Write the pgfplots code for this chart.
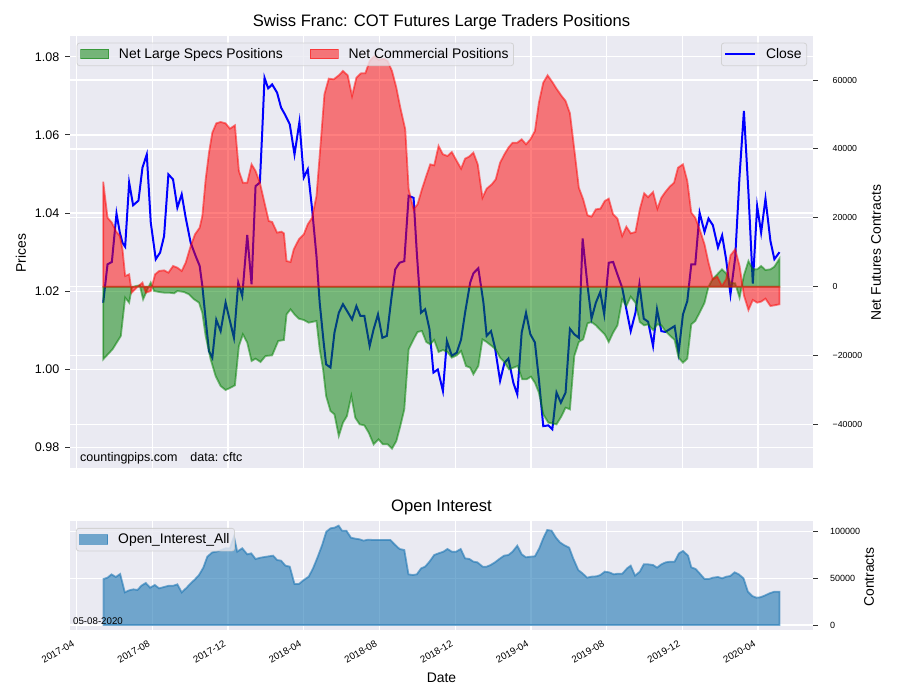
\documentclass[border=0pt]{standalone}
\usepackage{fontspec}
\setmainfont{Liberation Sans}
\usepackage{pgfplots}
\usepackage{pgfplotstable}
\pgfplotsset{compat=1.18}
\definecolor{bgc}{RGB}{234,234,242}
\definecolor{legedge}{RGB}{204,204,204}
\definecolor{specg}{RGB}{0,128,0}
\definecolor{commr}{RGB}{255,0,0}
\definecolor{oic}{RGB}{31,119,180}
\definecolor{tickc}{RGB}{50,50,50}

\pgfplotstableread{
x y
1.404 1.0171
1.632 1.0269
1.861 1.0275
2.107 1.0399
2.283 1.0350
2.423 1.0324
2.564 1.0314
2.775 1.0478
2.985 1.0420
3.267 1.0432
3.477 1.0516
3.706 1.0550
3.917 1.0376
4.180 1.0282
4.409 1.0299
4.620 1.0341
4.848 1.0499
5.094 1.0486
5.322 1.0414
5.551 1.0448
5.762 1.0388
6.025 1.0324
6.289 1.0290
6.500 1.0265
6.640 1.0214
6.816 1.0128
6.992 1.0047
7.168 1.0030
7.378 1.0127
7.607 1.0098
7.870 1.0171
8.099 1.0124
8.310 1.0081
8.538 1.0222
8.749 1.0188
9.013 1.0344
9.241 1.0218
9.452 1.0469
9.680 1.0478
9.803 1.0606
9.926 1.0746
10.12 1.0719
10.33 1.0729
10.59 1.0708
10.80 1.0670
11.03 1.0650
11.26 1.0627
11.51 1.0550
11.77 1.0633
12.00 1.0491
12.21 1.0512
12.44 1.0410
12.67 1.0290
12.84 1.0171
13.05 1.0069
13.18 1.0013
13.41 1.0005
13.62 1.0094
13.85 1.0145
14.07 1.0167
14.28 1.0150
14.55 1.0128
14.78 1.0162
14.99 1.0137
15.20 1.0137
15.48 1.0060
15.69 1.0103
15.92 1.0141
16.15 1.0081
16.39 1.0086
16.62 1.0179
16.83 1.0256
17.06 1.0273
17.31 1.0277
17.54 1.0444
17.80 1.0439
17.97 1.0299
18.19 1.0145
18.41 1.0154
18.64 1.0103
18.85 0.9992
19.08 1.0000
19.35 0.9945
19.56 1.0073
19.82 1.0035
20.08 1.0043
20.31 1.0077
20.52 1.0145
20.79 1.0222
20.96 1.0246
21.22 1.0259
21.49 1.0171
21.66 1.0086
21.89 1.0098
22.10 1.0056
22.37 0.9971
22.60 1.0017
22.81 1.0028
23.07 0.9966
23.28 0.9936
23.51 1.0094
23.74 1.0145
23.97 1.0090
24.21 1.0069
24.42 0.9975
24.65 0.9855
24.92 0.9857
25.13 0.9847
25.35 0.9941
25.58 0.9915
25.83 0.9941
26.06 1.0104
26.29 1.0090
26.53 1.0081
26.73 1.0335
26.99 1.0214
27.20 1.0130
27.43 1.0171
27.66 1.0198
27.87 1.0141
28.11 1.0273
28.34 1.0275
28.57 1.0243
28.82 1.0209
29.04 1.0154
29.27 1.0098
29.52 1.0145
29.73 1.0218
29.96 1.0130
30.19 1.0122
30.45 1.0060
30.66 1.0154
30.89 1.0098
31.10 1.0096
31.33 1.0103
31.59 1.0111
31.80 1.0043
32.03 1.0141
32.26 1.0175
32.47 1.0269
32.68 1.0269
32.91 1.0401
33.17 1.0352
33.38 1.0386
33.61 1.0369
33.88 1.0312
34.10 1.0343
34.31 1.0282
34.54 1.0192
34.79 1.0286
35.02 1.0495
35.25 1.0661
35.49 1.0452
35.72 1.0220
35.95 1.0418
36.16 1.0350
36.39 1.0437
36.65 1.0329
36.86 1.0282
37.13 1.0300
}\closedata

\pgfplotstableread{
x y
1.404 30490
1.632 20038
1.861 18587
2.072 16167
2.283 14716
2.423 10845
2.564 3104
2.775 3588
2.915 -1735
3.091 -767
3.267 200
3.477 1168
3.653 -1735
3.917 -1251
4.145 3588
4.356 4556
4.620 4749
4.848 4072
5.094 6007
5.322 5523
5.551 4556
5.762 6975
6.025 11813
6.254 15200
6.500 17136
6.640 20521
6.816 31167
6.992 38909
7.168 44715
7.378 47424
7.607 47811
7.870 47424
8.099 45876
8.362 46843
8.573 33586
8.784 30199
9.013 30199
9.241 35521
9.452 33586
9.680 30199
9.944 23909
10.15 19070
10.33 18780
10.59 15683
10.82 15974
10.95 15500
11.09 7458
11.30 7168
11.47 10845
11.74 13748
12.00 15200
12.21 18103
12.44 20038
12.67 26328
12.88 40844
13.09 55843
13.32 60392
13.58 60198
13.85 61359
14.07 62617
14.32 61359
14.55 55359
14.78 60682
15.02 61940
15.25 61940
15.48 65520
15.73 66972
15.95 65811
16.22 66198
16.43 65520
16.66 62617
16.89 57779
17.10 51972
17.36 45682
17.54 28264
17.80 22458
18.01 23909
18.24 28264
18.47 32135
18.68 35521
18.89 35231
19.12 40844
19.35 38425
19.59 37941
19.82 39102
20.08 36489
20.31 34263
20.52 37167
20.73 37748
20.96 38909
21.19 35521
21.44 25844
21.66 28457
21.93 29715
22.14 31167
22.37 36005
22.60 38425
22.81 40360
23.03 41812
23.28 41812
23.51 42779
23.74 41328
23.97 42779
24.21 45198
24.42 53424
24.65 59230
24.88 61359
25.13 59424
25.35 57488
25.62 55359
25.83 53908
26.06 50327
26.29 39876
26.53 28748
26.76 25361
26.99 20715
27.20 20328
27.43 22458
27.67 22651
27.90 24877
28.11 25554
28.34 21006
28.57 19748
28.82 14716
29.04 17425
29.27 15490
29.52 15877
29.75 22458
29.98 27103
30.19 26000
30.45 27490
30.68 22651
30.89 25844
31.10 27490
31.33 29038
31.56 30199
31.77 34554
32.03 35521
32.26 30683
32.47 21490
32.68 20038
32.91 16651
33.17 12297
33.38 6975
33.61 2136
33.84 2910
34.09 200
34.31 2136
34.54 9103
34.79 10845
35.02 6007
35.25 -2507
35.49 -6765
35.72 -3862
35.95 -4636
36.16 -4346
36.39 -3475
36.65 -5604
36.86 -5410
37.13 -5120
}\commdata

\pgfplotstableread{
x y
1.404 -21089
1.896 -18186
2.335 -14315
2.564 -3186
2.775 -4638
2.915 -284
3.126 200
3.337 394
3.513 -3671
3.741 -767
3.917 1168
4.092 -1251
4.356 -1541
4.620 -1735
4.883 -1735
5.147 -1928
5.322 -1251
5.674 -1541
5.937 -2219
6.201 -3671
6.465 -4638
6.640 -7541
6.816 -14315
7.080 -21089
7.343 -25928
7.607 -28831
7.870 -29993
8.134 -29315
8.362 -28638
8.573 -17218
8.784 -13831
9.013 -16251
9.241 -21573
9.452 -20896
9.715 -21863
9.979 -20122
10.33 -19928
10.65 -15767
10.95 -15476
11.09 -8025
11.30 -6573
11.51 -8025
11.74 -9283
12.00 -9670
12.26 -10444
12.67 -9960
12.84 -18186
13.02 -23992
13.18 -31734
13.41 -36089
13.62 -37056
13.85 -43347
14.07 -39476
14.28 -37540
14.51 -31734
14.72 -38024
14.95 -39960
15.20 -40250
15.43 -42379
15.69 -45766
15.95 -44315
16.18 -45766
16.43 -45766
16.66 -47024
16.89 -44798
17.10 -40443
17.31 -35605
17.54 -18186
17.80 -15283
18.01 -13154
18.24 -12864
18.47 -16057
18.68 -16734
18.89 -15476
19.12 -18960
19.35 -18379
19.59 -18960
19.82 -20605
20.08 -19928
20.31 -18670
20.57 -23025
20.79 -23508
20.96 -25443
21.22 -23024
21.44 -15283
21.66 -16057
21.93 -17218
22.14 -18186
22.37 -20605
22.60 -21863
22.84 -23992
23.07 -23508
23.30 -23024
23.54 -26895
23.77 -26895
24.00 -26121
24.21 -27863
24.42 -30766
24.65 -37056
24.92 -39476
25.13 -39669
25.35 -39960
25.62 -37540
25.83 -35121
26.06 -35605
26.29 -20122
26.53 -16057
26.76 -15283
26.99 -10638
27.20 -10251
27.43 -11218
27.67 -12573
27.90 -13831
28.11 -16057
28.34 -13348
28.57 -11218
28.82 -3671
29.04 -5606
29.27 -2896
29.52 -4638
29.75 -10251
29.98 -11218
30.19 -10928
30.45 -12573
30.68 -10928
30.89 -11218
31.10 -12864
31.33 -14121
31.59 -15476
31.80 -20605
32.03 -22057
32.26 -20896
32.47 -10928
32.68 -9960
32.91 -7541
33.17 -4638
33.38 0
33.61 2330
33.84 3588
34.09 5039
34.31 3878
34.54 1168
34.79 975
35.02 -3186
35.25 3298
35.49 7458
35.72 5039
35.95 5039
36.16 6007
36.39 4846
36.65 5039
36.86 5813
37.13 8135
}\specdata

\pgfplotstableread{
x y
1.421 49252
1.632 50680
1.843 54208
2.072 51392
2.300 54606
2.546 34976
2.775 37118
3.003 38189
3.214 37475
3.425 42114
3.653 44970
3.882 39973
4.128 42828
4.356 39259
4.620 40687
4.883 42114
5.112 42114
5.322 43542
5.551 34976
5.814 39973
6.025 44611
6.236 48538
6.465 53535
6.693 61385
6.904 73164
7.168 77804
7.396 78518
7.642 80303
7.870 82087
8.099 82087
8.310 94579
8.485 78518
8.749 82087
9.013 75663
9.223 76734
9.452 70666
9.715 72094
9.926 72808
10.15 73521
10.38 74235
10.59 69595
10.80 68881
11.03 63528
11.26 62457
11.51 43899
11.74 43899
12.00 48182
12.26 51751
12.49 60673
12.74 73164
12.97 85656
13.19 99932
13.41 103501
13.62 104215
13.84 106356
14.02 101003
14.25 101003
14.49 93508
14.72 92437
14.95 91723
15.16 90296
15.39 91367
15.66 91010
16.18 91010
16.57 91010
16.83 85656
17.06 81373
17.31 80303
17.53 54250
17.76 53535
17.97 54250
18.20 60673
18.41 62457
18.64 67811
18.89 74949
19.12 76734
19.38 78518
19.59 81373
19.82 78518
20.05 78518
20.29 81373
20.52 71380
20.75 70666
20.96 67811
21.17 67097
21.45 62457
21.66 62457
21.87 64242
22.10 67097
22.33 70666
22.58 74235
22.81 74949
23.03 78518
23.28 84942
23.51 75663
23.74 72451
23.98 73164
24.21 73521
24.44 82087
24.65 92794
24.86 101717
25.09 101003
25.32 93508
25.53 88512
25.74 85656
26.02 82801
26.23 71380
26.50 58889
26.72 55320
26.97 50680
27.20 51751
27.46 52108
27.67 53535
27.90 57104
28.13 56390
28.38 54249
28.60 54964
28.83 54964
29.08 60673
29.27 63528
29.50 52821
29.75 57104
29.96 64956
30.19 64956
30.45 64242
30.66 61386
30.89 64956
31.12 67097
31.36 67811
31.59 67811
31.82 76734
32.03 79232
32.30 74235
32.47 61742
32.70 59958
32.91 55318
33.17 49251
33.40 49251
33.61 50679
33.88 51393
34.10 49966
34.32 51751
34.53 52465
34.76 56391
34.98 54250
35.23 49966
35.46 35690
35.69 31050
35.90 29265
36.11 29622
36.34 31407
36.60 33905
36.86 35690
37.13 35690
}\oidata

\pgfplotsset{
  base/.style={
    scale only axis, width=743pt, anchor=south west,
    xmin=-0.35, xmax=38.9,
    axis line style={draw=none},
    tick align=outside, major tick length=4.5pt,
    tick style={color=tickc, line width=0.9pt},
    xtick={0,4,8,12,16,20,24,28,32,36},
    xtick style={draw=none},
    grid=major, grid style={white, line width=1.3pt},
    scaled y ticks=false,
    /pgf/number format/assume math mode=true,
  },
  legbox/.style={
    fill=bgc, fill opacity=0.8, draw=legedge, draw opacity=0.8, text opacity=1,
    rounded corners=2.5pt, line width=0.8pt,
    font=\fontsize{13.9}{16}\selectfont,
    inner xsep=3pt, inner ysep=3.5pt,
  },
}

\begin{document}
\begin{tikzpicture}[x=1pt,y=1pt]
\path[fill=white] (0,0) rectangle (900,700);

% ---------- top: prices (left axis); also carries the right-axis grid lines ----------
\begin{axis}[base, at={(70pt,232pt)}, height=432pt,
  ymin=0.9748, ymax=1.0853,
  axis background/.style={fill=bgc},
  ytick={0.98,1.00,1.02,1.04,1.06,1.08},
  yticklabels={0.98,1.00,1.02,1.04,1.06,1.08},
  extra y ticks={0.98593,1.00355,1.02117,1.03880,1.05642,1.07404},
  extra y tick labels={},
  extra y tick style={grid=major, tick style={draw=none}},
  ytick pos=left, xticklabels={},
  yticklabel style={font=\fontsize{12.5}{14}\selectfont, anchor=east, inner sep=0pt, xshift=-6pt},
]
\addplot[color=blue, line width=2pt] table {\closedata};
\end{axis}

% ---------- top: net positions (right axis) ----------
\begin{axis}[base, at={(70pt,232pt)}, height=432pt,
  ymin=-52632, ymax=72780, grid=none,
  ytick={-40000,-20000,0,20000,40000,60000},
  yticklabels={−40000,−20000,0,20000,40000,60000},
  ytick pos=right, yticklabel pos=right, xticklabels={},
  yticklabel style={font=\fontsize{8.75}{10}\selectfont, anchor=west, inner sep=0pt, xshift=15pt},
  legend columns=2,
  legend style={legbox, at={(0.009,0.9845)}, anchor=north west,
    /tikz/every odd column/.append style={column sep=8pt},
    /tikz/every even column/.append style={column sep=25pt}},
  legend image code/.code={\draw[sharp corners,#1] (0pt,-4.5pt) rectangle (28pt,5pt);},
]
\addplot[fill=specg, fill opacity=0.5, draw=specg, draw opacity=0.5, line width=1.8pt, forget plot] table {\specdata} \closedcycle;
\addplot[fill=commr, fill opacity=0.5, draw=commr, draw opacity=0.5, line width=1.8pt, forget plot] table {\commdata} \closedcycle;
\addlegendimage{fill=specg, fill opacity=0.5, draw=specg, draw opacity=0.5, line width=0.9pt}
\addlegendentry{Net Large Specs Positions}
\addlegendimage{fill=commr, fill opacity=0.5, draw=commr, draw opacity=0.5, line width=0.9pt}
\addlegendentry{Net Commercial Positions}
\end{axis}

% ---------- top: legend for Close ----------
\begin{axis}[base, at={(70pt,232pt)}, height=432pt,
  ymin=0.9748, ymax=1.0853, grid=none,
  xtick=\empty, ytick=\empty,
  legend style={legbox, at={(0.992,0.9845)}, anchor=north east,
    /tikz/every odd column/.append style={column sep=7.7pt}},
  legend image code/.code={\draw[#1] (0pt,0pt) -- (30pt,0pt);},
]
\addplot[draw=none, forget plot] coordinates {(1,1) (2,1.01)};
\addlegendimage{color=blue, line width=2pt, draw opacity=1}
\addlegendentry{Close}
\end{axis}

% ---------- bottom: open interest ----------
\begin{axis}[base, at={(70pt,70pt)}, height=109pt,
  ymin=-5350, ymax=111350,
  axis background/.style={fill=bgc},
  ytick={0,50000,100000}, yticklabels={0,50000,100000},
  ytick pos=right, yticklabel pos=right,
  yticklabel style={font=\fontsize{9}{10}\selectfont, anchor=west, inner sep=0pt, xshift=12.5pt},
  xticklabels={2017-04,2017-08,2017-12,2018-04,2018-08,2018-12,2019-04,2019-08,2019-12,2020-04},
  xticklabel style={font=\fontsize{9.7}{11}\selectfont, xshift=-5pt, yshift=-5pt, rotate=30, anchor=north east, inner sep=0pt},
  legend style={legbox, at={(0.008,0.936)}, anchor=north west,
    /tikz/every odd column/.append style={column sep=8pt}},
  legend image code/.code={\draw[sharp corners,#1] (0pt,-4.5pt) rectangle (28pt,5pt);},
]
\addplot[fill=oic, fill opacity=0.6, draw=oic, draw opacity=0.6, line width=1.8pt, forget plot] table {\oidata} \closedcycle;
\addlegendimage{fill=oic, fill opacity=0.6, draw=oic, draw opacity=0.6, line width=0.9pt}
\addlegendentry{Open\_Interest\_All}
\end{axis}

% ---------- texts ----------
\node[anchor=base, font=\fontsize{16.6}{19}\selectfont] at (441.5pt,673pt) {Swiss Franc: COT Futures Large Traders Positions};
\node[anchor=base, font=\fontsize{16.6}{19}\selectfont] at (441.5pt,188pt) {Open Interest};
\node[rotate=90, font=\fontsize{13.9}{16}\selectfont] at (21pt,447pt) {Prices};
\node[rotate=90, font=\fontsize{13.9}{16}\selectfont] at (876pt,447pt) {Net Futures Contracts};
\node[rotate=90, font=\fontsize{13.9}{16}\selectfont] at (869pt,123pt) {Contracts};
\node[anchor=base, font=\fontsize{13.9}{16}\selectfont] at (441.5pt,17pt) {Date};
\node[anchor=base west, inner sep=0pt, font=\fontsize{12.5}{14}\selectfont] at (80pt,238pt) {countingpips.com\hspace{13pt}data: cftc};
\node[anchor=base west, inner sep=0pt, font=\fontsize{9.7}{11}\selectfont] at (73pt,75pt) {05-08-2020};
\end{tikzpicture}
\end{document}
